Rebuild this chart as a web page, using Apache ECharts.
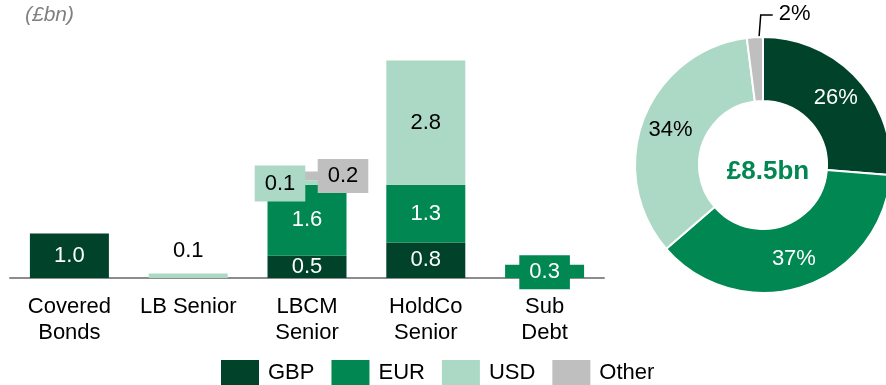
<!DOCTYPE html>
<html>
<head>
<meta charset="utf-8">
<script src="https://cdn.jsdelivr.net/npm/echarts@6/dist/echarts.min.js"></script>
<style>
  html, body { margin: 0; padding: 0; background: #fff; }
  #chart { width: 886px; height: 385px; }
</style>
</head>
<body>
<div id="chart"></div>
<script>
// Issuance by product type, £bn, split by currency
const categories = ['Covered\nBonds', 'LB Senior', 'LBCM\nSenior', 'HoldCo\nSenior', 'Sub\nDebt'];
const gbp   = [1.0, null, 0.5, 0.8, null];
const eur   = [null, null, 1.6, 1.3, 0.3];
const usd   = [null, 0.1, 0.1, 2.8, null];
const other = [null, null, 0.2, null, null];

// Currency mix of the total, %
const currencies = ['GBP', 'EUR', 'USD', 'Other'];
const mixPct = [26, 37, 34, 2];
const totalLabel = '£8.5bn';

const COLORS = { GBP: '#00432a', EUR: '#008752', USD: '#acd9c5', Other: '#bfbfbf' };
const FONT = 'Liberation Sans, Arial, sans-serif';
const LABEL_SIZE = 22;

const fmt = v => v.toFixed(1);

// Per-bar label tweaks (index → label options)
const labelTweaks = {
  EUR: { 4: { backgroundColor: COLORS.EUR, padding: [6, 10], offset: [0, 1] } },
  USD: {
    1: { position: 'top', distance: 12, color: '#000' },
    2: { backgroundColor: COLORS.USD, color: '#000', padding: [7, 10], offset: [-27, 1] }
  },
  Other: { 2: { backgroundColor: COLORS.Other, color: '#000', padding: [6, 10], offset: [36, 0] } }
};

function barSeries(name, values, textColor) {
  const tweaks = labelTweaks[name] || {};
  return {
    name: name,
    type: 'bar',
    stack: 'total',
    barWidth: 79,
    itemStyle: { color: COLORS[name] },
    label: {
      show: true,
      position: 'inside',
      color: textColor,
      fontFamily: FONT,
      fontSize: LABEL_SIZE,
      formatter: p => fmt(p.value)
    },
    data: values.map((v, i) => tweaks[i] ? { value: v, label: tweaks[i] } : v)
  };
}

const pieData = currencies.map((c, i) => {
  const item = { name: c, value: mixPct[i], itemStyle: { color: COLORS[c] } };
  if (c === 'USD') item.label = { color: '#000' };
  if (c === 'Other') {
    item.label = { position: 'outside', color: '#000' };
    item.labelLine = { show: true };
  }
  return item;
});

const chart = echarts.init(document.getElementById('chart'), null, { renderer: 'canvas' });

chart.setOption({
  animation: false,
  textStyle: { fontFamily: FONT },
  title: [
    {
      text: '(£bn)',
      left: 25, top: 5,
      padding: 0,
      textStyle: { fontFamily: FONT, fontSize: 21, fontStyle: 'italic', fontWeight: 'normal', color: '#808080' }
    },
    {
      text: totalLabel,
      left: 763, top: 167,
      textAlign: 'center', textVerticalAlign: 'middle',
      textStyle: { fontFamily: FONT, fontSize: 26, fontWeight: 'bold', color: '#008752' }
    }
  ],
  legend: {
    data: currencies,
    left: 221, top: 360,
    padding: 0,
    icon: 'rect',
    itemWidth: 38, itemHeight: 26,
    itemGap: 17,
    selectedMode: false,
    textStyle: { fontFamily: FONT, fontSize: 22, color: '#000', padding: [0, 0, 0, 4] }
  },
  grid: { left: 10, width: 594, top: 56, height: 222, containLabel: false },
  xAxis: {
    type: 'category',
    data: categories,
    axisLine: { lineStyle: { color: '#8c8c8c', width: 2 } },
    axisTick: { show: false },
    axisLabel: { color: '#000', fontFamily: FONT, fontSize: 22, lineHeight: 26, margin: 16, interval: 0 }
  },
  yAxis: { type: 'value', min: 0, max: 5, show: false, splitLine: { show: false } },
  series: [
    barSeries('GBP', gbp, '#fff'),
    barSeries('EUR', eur, '#fff'),
    barSeries('USD', usd, '#000'),
    barSeries('Other', other, '#000'),
    {
      name: 'Currency mix',
      type: 'pie',
      center: [763, 165],
      radius: [64, 128],
      startAngle: 90,
      clockwise: true,
      avoidLabelOverlap: false,
      itemStyle: { borderColor: '#fff', borderWidth: 2 },
      label: {
        show: true,
        position: 'inside',
        color: '#fff',
        fontFamily: FONT,
        fontSize: LABEL_SIZE,
        formatter: p => p.value + '%'
      },
      labelLine: { show: false, lineStyle: { color: '#000', width: 1.5 } },
      labelLayout: function (params) {
        if (params.dataIndex !== 3) return {};
        const r = params.rect;
        const start = [r.x + r.width * 0.6, r.y + 32];
        const elbow = [start[0] + 4, r.y - 21];
        const end = [elbow[0] + 12, elbow[1]];
        return {
          x: end[0] + 6,
          y: elbow[1] - 1,
          align: 'left',
          verticalAlign: 'middle',
          labelLinePoints: [start, elbow, end]
        };
      },
      data: pieData
    }
  ]
});
</script>
</body>
</html>
